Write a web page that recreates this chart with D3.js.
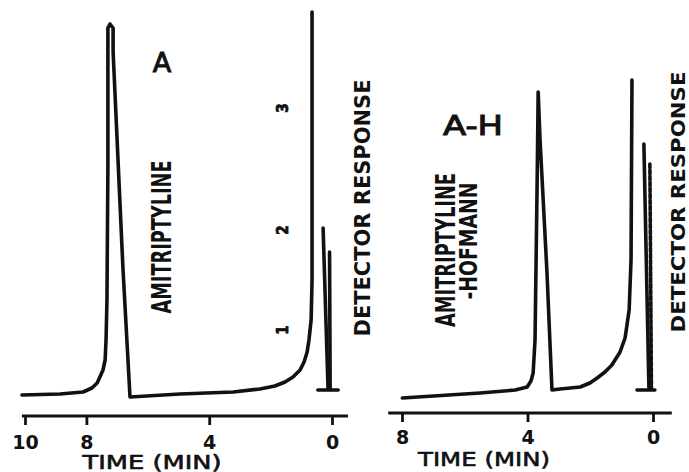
<!DOCTYPE html>
<html>
<head>
<meta charset="utf-8">
<script src="https://cdn.jsdelivr.net/npm/d3@7"></script>
<style>
  body { margin: 0; background: #fff; }
  svg { display: block; }
  .trace { fill: none; stroke: #111; stroke-width: 3.6; stroke-linejoin: round; stroke-linecap: round; }
  .axis line { stroke: #111; stroke-width: 2.8; }
  .axis text { font-family: "DejaVu Sans", sans-serif; font-weight: bold; font-size: 19px; fill: #111; }
  .lbl { font-family: "Liberation Sans Narrow", "DejaVu Sans Condensed", sans-serif; font-weight: bold; fill: #111; }
</style>
</head>
<body>
<div id="chart"></div>
<script>
// time ticks (min)
const ticksA = [10, 8, 4, 0];
const ticksAH = [8, 4, 0];

// traces: [time (min), detector response (% of full scale)]
const traceA = [
  [10.1, 1.25], [8.86, 1.5], [8.11, 2], [7.82, 3], [7.65, 4.25], [7.56, 5.75],
  [7.46, 7.5], [7.39, 10], [7.36, 15], [7.33, 25], [7.30, 58], [7.30, 93],
  [7.23, 94], [7.13, 93], [7.13, 87], [6.81, 33], [6.58, 0.75], [4.95, 1.5],
  [3.22, 2], [2.35, 2.75], [1.86, 3.5], [1.53, 4.5], [1.27, 5.75], [1.04, 7.5],
  [0.91, 9.5], [0.81, 12], [0.75, 15], [0.68, 20], [0.65, 30], [0.65, 97]
];
const traceAH = [
  [7.99, 0.5], [5.51, 1.75], [4.39, 2.5], [4.01, 3.25], [3.89, 4.75], [3.82, 6.75],
  [3.76, 15], [3.69, 56], [3.66, 77], [3.60, 65], [3.38, 32], [3.22, 2.5],
  [2.96, 2.75], [2.32, 3.25], [2.01, 4.25], [1.78, 5.5], [1.53, 7], [1.31, 8.75],
  [1.05, 12], [0.89, 15.5], [0.76, 22.5], [0.70, 35], [0.67, 80]
];

// detector response marker at injection (t ~ 0)
const markerFootA = [[0.46, 2.5], [-0.2, 2.5]];
const markerA1 = [[0.29, 43], [0.13, 3]];
const markerA2 = [[0.08, 37], [0.06, 3]];
const markerFootAH = [[0.51, 2.5], [-0.06, 2.5]];
const markerAH1 = [[0.29, 64], [0.13, 3]];
const markerAH2 = [[0.10, 59], [0.05, 3]];

// attenuation marks beside peak A
const attenMarks = [["3", 73], ["2", 42.5], ["1", 17.5]];

const W = 689, H = 472;
const svg = d3.select("#chart").append("svg").attr("width", W).attr("height", H);

const y = d3.scaleLinear().domain([0, 100]).range([400, 0]);
const xA = d3.scaleLinear().domain([10, 0]).range([25, 332]);
const xAH = d3.scaleLinear().domain([8, 0]).range([402, 653]);

function drawPanel(x, trace, foot, m1, m2, dashed2, ticks, axisY, axisDom, labY, timeX, timeY, timeLen) {
  const line = d3.line().x(d => x(d[0])).y(d => y(d[1]));
  svg.append("path").attr("class", "trace").attr("d", line(trace));
  svg.append("path").attr("class", "trace").attr("d", line(foot)).attr("stroke-width", 2.8);
  svg.append("path").attr("class", "trace").attr("d", line(m1)).attr("stroke-width", 2.8);
  svg.append("path").attr("class", "trace").attr("d", line(m2)).attr("stroke-width", 2.2)
    .attr("stroke-dasharray", dashed2 ? "4,2" : null);

  // axis
  const g = svg.append("g").attr("class", "axis").attr("transform", `translate(0,${axisY})`);
  g.append("line").attr("x1", x(axisDom[0])).attr("x2", x(axisDom[1])).attr("y1", 0).attr("y2", 0);
  g.call(d3.axisBottom(x).tickValues(ticks).tickSize(9).tickSizeOuter(0).tickFormat(d3.format("d")));
  g.select(".domain").remove();
  g.selectAll(".tick text").attr("y", labY).attr("dy", 0);

  svg.append("text").attr("x", timeX).attr("y", timeY)
    .attr("text-anchor", "middle")
    .attr("textLength", timeLen).attr("lengthAdjust", "spacingAndGlyphs")
    .style("font-family", "DejaVu Sans, sans-serif").style("font-size", "19px")
    .style("stroke", "#111").style("stroke-width", 0.6).style("fill", "#111")
    .text("TIME (MIN)");
}

drawPanel(xA, traceA, markerFootA, markerA1, markerA2, false, ticksA, 416, [10.1, -0.52], 33, 152, 469, 139);
drawPanel(xAH, traceAH, markerFootAH, markerAH1, markerAH2, true, ticksAH, 413, [8.44, -0.6], 31, 484, 466, 132);

// rotated labels: center x, center y, length, font size
function vText(txt, cx, cy, len, fs) {
  const cap = fs * 0.72;
  svg.append("text").attr("class", "lbl")
    .attr("transform", `translate(${cx + cap / 2},${cy}) rotate(-90)`)
    .attr("text-anchor", "middle")
    .attr("textLength", len).attr("lengthAdjust", "spacingAndGlyphs")
    .style("font-size", fs + "px")
    .text(txt);
}
vText("AMITRIPTYLINE", 161, 237, 153, 27);
vText("DETECTOR RESPONSE", 362, 208, 257, 21);
vText("AMITRIPTYLINE", 445, 250, 154, 27);
vText("-HOFMANN", 468, 241, 117, 24);
vText("DETECTOR RESPONSE", 678, 202, 261, 20);

attenMarks.forEach(d => {
  svg.append("text").attr("class", "lbl")
    .attr("transform", `translate(${xA(1.6) + 5},${y(d[1])}) rotate(-90)`)
    .attr("text-anchor", "middle")
    .style("font-size", "15px")
    .style("stroke", "#111").style("stroke-width", 0.8)
    .text(d[0]);
});

// panel letters
svg.append("text").attr("x", 162).attr("y", 72).attr("text-anchor", "middle")
  .style("font-family", "DejaVu Sans, sans-serif").style("font-size", "27px")
  .style("stroke", "#111").style("stroke-width", 1).style("fill", "#111")
  .text("A");
svg.append("text").attr("x", 473).attr("y", 135).attr("text-anchor", "middle")
  .attr("textLength", 60).attr("lengthAdjust", "spacingAndGlyphs")
  .style("font-family", "DejaVu Sans, sans-serif").style("font-size", "27px")
  .style("stroke", "#111").style("stroke-width", 1).style("fill", "#111")
  .text("A-H");
</script>
</body>
</html>
